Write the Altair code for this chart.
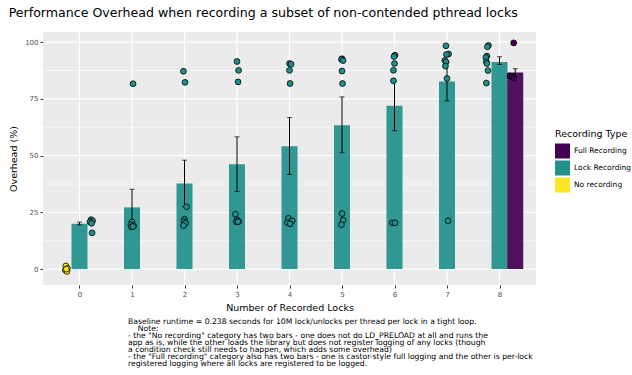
import altair as alt
import pandas as pd

# ---------------- data ----------------
lock_counts = [0, 1, 2, 3, 4, 5, 6, 7, 8]
lock_mean = [20.0, 27.2, 37.7, 46.2, 54.2, 63.4, 72.0, 82.7, 91.3]
lock_lo = [19.5, 19.0, 27.5, 34.2, 41.7, 51.3, 61.0, 74.1, 90.2]
lock_hi = [20.7, 35.2, 48.0, 58.3, 66.8, 75.9, 83.0, 91.3, 93.6]

full_counts = [8]
full_mean = [86.6]
full_lo = [84.9]
full_hi = [88.3]

# individual runs (value) with horizontal jitter
lock_pt_vals = {
    0: [21.8, 21.3, 20.8, 20.2, 16.0],
    1: [81.7, 20.8, 19.6, 19.0, 18.6, 18.8],
    2: [87.2, 82.3, 27.5, 22.0, 21.0, 20.3, 19.2],
    3: [91.5, 87.6, 82.5, 24.2, 21.7, 21.0, 20.8, 20.9],
    4: [90.6, 90.3, 87.6, 81.8, 22.4, 21.3, 20.5, 20.0],
    5: [92.7, 92.4, 91.9, 87.3, 81.8, 24.5, 21.6, 19.6],
    6: [94.3, 93.7, 90.6, 87.6, 83.0, 20.4, 20.4],
    7: [98.4, 94.8, 94.6, 92.0, 91.3, 89.5, 84.0, 21.3],
    8: [98.6, 98.0, 93.9, 93.3, 91.4, 90.6, 87.5, 82.0],
}
lock_pt_jitter = {
    0: [0.22, 0.25, 0.20, 0.23, 0.24],
    1: [0.02, 0.00, -0.02, 0.03, -0.01, 0.02],
    2: [-0.02, 0.01, 0.04, 0.00, -0.01, 0.02, -0.02],
    3: [0.00, 0.03, 0.02, -0.03, 0.00, 0.03, -0.01, 0.02],
    4: [0.00, 0.03, 0.00, 0.01, -0.02, 0.05, -0.04, 0.01],
    5: [0.00, -0.01, 0.02, 0.00, 0.01, 0.00, 0.02, -0.01],
    6: [0.01, -0.01, 0.00, -0.02, -0.02, -0.04, 0.01],
    7: [-0.02, 0.03, -0.01, -0.04, -0.02, -0.03, 0.00, 0.02],
    8: [-0.21, -0.23, -0.24, -0.26, -0.25, -0.24, -0.22, -0.25],
}
full_pt_vals = [99.7, 85.1, 84.9, 84.2]
full_pt_pos = [8.27, 8.20, 8.24, 8.27]
none_pt_vals = [1.4, 0.3, -0.4, -1.0, 0.0]
none_pt_pos = [-0.26, -0.23, -0.27, -0.24, -0.25]

types = ["Full Recording", "Lock Recording", "No recording"]
colors = ["#440154", "#21908C", "#FDE725"]
dodge = {"Lock Recording": 0.0, "Full Recording": 0.3}

y_major = [0, 25, 50, 75, 100]
y_minor = [12.5, 37.5, 62.5, 87.5]

caption_lines = [
    "Baseline runtime = 0.238 seconds for 10M lock/unlocks per thread per lock in a tight loop.",
    "\u200b\u00a0\u00a0\u00a0\u00a0Note:",
    "- the \"No recording\" category has two bars - one does not do LD_PRELOAD at all and runs the",
    "app as is, while the other loads the library but does not register logging of any locks (though",
    "a condition check still needs to happen, which adds some overhead)",
    "- the \"Full recording\" category also has two bars - one is castor-style full logging and the other is per-lock",
    "registered logging where all locks are registered to be logged.",
]

# ---------------- tables ----------------
bars = pd.DataFrame(
    [dict(type="Lock Recording", pos=c + dodge["Lock Recording"], mean=m, lo=l, hi=h)
     for c, m, l, h in zip(lock_counts, lock_mean, lock_lo, lock_hi)]
    + [dict(type="Full Recording", pos=c + dodge["Full Recording"], mean=m, lo=l, hi=h)
       for c, m, l, h in zip(full_counts, full_mean, full_lo, full_hi)]
)

pts_rows = []
for c in lock_counts:
    for v, j in zip(lock_pt_vals[c], lock_pt_jitter[c]):
        pts_rows.append(dict(type="Lock Recording", pos=c + j, val=v))
for v, p in zip(full_pt_vals, full_pt_pos):
    pts_rows.append(dict(type="Full Recording", pos=p, val=v))
for v, p in zip(none_pt_vals, none_pt_pos):
    pts_rows.append(dict(type="No recording", pos=p, val=v))
pts = pd.DataFrame(pts_rows)

FONT = "DejaVu Sans"

xscale = alt.Scale(domain=[-0.6, 8.6], nice=False, zero=False)
yscale = alt.Scale(domain=[-7, 104.5], nice=False, zero=False)
cscale = alt.Scale(domain=types, range=colors)

xaxis = alt.Axis(
    values=lock_counts, title="Number of Recorded Locks", grid=False, domain=False,
    tickColor="#333333", tickSize=3,
    labelColor="#4D4D4D", labelFontSize=7, labelFont=FONT, labelPadding=2,
    titleFont=FONT, titleFontSize=9.5, titleFontWeight="normal", titleColor="black",
    titlePadding=5,
)
yaxis = alt.Axis(
    values=y_major, title="Overhead (%)", grid=False, domain=False,
    tickColor="#333333", tickSize=3,
    labelColor="#4D4D4D", labelFontSize=7, labelFont=FONT, labelPadding=2,
    titleFont=FONT, titleFontSize=9.5, titleFontWeight="normal", titleColor="black",
    titlePadding=6,
)

X = lambda f: alt.X(f, scale=xscale, axis=xaxis)
Y = lambda f: alt.Y(f, scale=yscale, axis=yaxis)

# grid lines (white, ggplot grey theme)
grid_y_major = alt.Chart(pd.DataFrame({"v": y_major})).mark_rule(color="white", strokeWidth=1.2).encode(
    y=Y("v:Q")
)
grid_y_minor = alt.Chart(pd.DataFrame({"v": y_minor})).mark_rule(color="white", strokeWidth=0.6).encode(
    y=Y("v:Q")
)
grid_x_major = alt.Chart(pd.DataFrame({"v": lock_counts})).mark_rule(color="white", strokeWidth=1.2).encode(
    x=X("v:Q")
)

color_enc = alt.Color(
    "type:N", scale=cscale,
    legend=alt.Legend(
        title="Recording Type", orient="none", legendX=512, legendY=97,
        symbolType="square", symbolSize=225, symbolStrokeWidth=0, symbolOpacity=1,
        titleFont=FONT, titleFontSize=9.5, titleFontWeight="normal", titleColor="black",
        labelFont=FONT, labelFontSize=7.5, labelColor="black", rowPadding=2,
        titlePadding=5, padding=0, labelOffset=4,
    ),
)

bar_layer = alt.Chart(bars).mark_bar(size=16, opacity=0.93).encode(
    x=X("pos:Q"),
    y=Y("mean:Q"),
    y2=alt.datum(0),
    color=color_enc,
)

err_line = alt.Chart(bars).mark_rule(color="black", strokeWidth=1).encode(
    x=X("pos:Q"), y=Y("lo:Q"), y2="hi:Q"
)
cap_lo = alt.Chart(bars).mark_tick(color="black", orient="horizontal", size=5, thickness=1).encode(
    x=X("pos:Q"), y=Y("lo:Q")
)
cap_hi = alt.Chart(bars).mark_tick(color="black", orient="horizontal", size=5, thickness=1).encode(
    x=X("pos:Q"), y=Y("hi:Q")
)

point_layer = alt.Chart(pts).mark_point(
    filled=True, size=34, stroke="black", strokeWidth=0.8, opacity=1
).encode(
    x=X("pos:Q"), y=Y("val:Q"),
    color=alt.Color("type:N", scale=cscale, legend=None),
)

caption = alt.Chart(pd.DataFrame({"k": [0]})).mark_text(
    align="left", baseline="top", font=FONT, fontSize=7.7, lineHeight=7.0, color="black"
).encode(
    x=alt.value(85), y=alt.value(286), text=alt.value(caption_lines)
)

chart = alt.layer(
    grid_y_minor, grid_y_major, grid_x_major,
    bar_layer, err_line, cap_lo, cap_hi, point_layer, caption
).properties(
    width=493, height=253,
    padding={"left": 43, "top": 32, "right": 96, "bottom": 90},
    autosize=alt.AutoSizeParams(type="none"),
    background="white",
    title=alt.TitleParams(
        "Performance Overhead when recording a subset of non-contended pthread locks",
        anchor="start", font=FONT, fontSize=12.6, fontWeight="normal", color="black",
        offset=12,
    ),
).configure_view(fill="#EBEBEB", stroke=None)

chart.save("out.html", embed_options={"renderer": "svg", "actions": False})
